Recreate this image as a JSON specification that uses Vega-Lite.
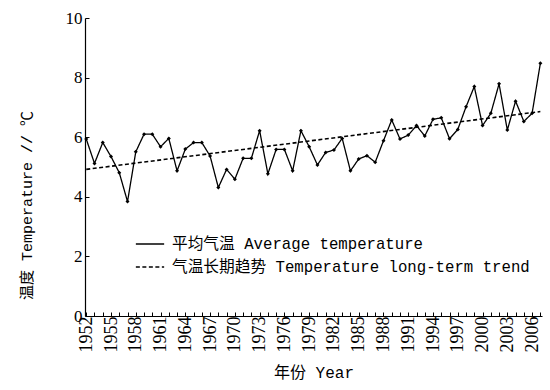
{
  "$schema": "https://vega.github.io/schema/vega-lite/v6.json",
  "width": 457,
  "height": 298,
  "autosize": {"type": "none"},
  "padding": {"left": 85, "top": 18, "right": 8, "bottom": 74},
  "background": "white",
  "config": {"view": {"stroke": null}, "font": "Liberation Serif"},
  "datasets": {
    "avg": [
      {"year": 1952, "temp": 5.94}, {"year": 1953, "temp": 5.12}, {"year": 1954, "temp": 5.82},
      {"year": 1955, "temp": 5.35}, {"year": 1956, "temp": 4.81}, {"year": 1957, "temp": 3.84},
      {"year": 1958, "temp": 5.51}, {"year": 1959, "temp": 6.10}, {"year": 1960, "temp": 6.10},
      {"year": 1961, "temp": 5.68}, {"year": 1962, "temp": 5.96}, {"year": 1963, "temp": 4.87},
      {"year": 1964, "temp": 5.60}, {"year": 1965, "temp": 5.82}, {"year": 1966, "temp": 5.82},
      {"year": 1967, "temp": 5.37}, {"year": 1968, "temp": 4.31}, {"year": 1969, "temp": 4.92},
      {"year": 1970, "temp": 4.59}, {"year": 1971, "temp": 5.29}, {"year": 1972, "temp": 5.29},
      {"year": 1973, "temp": 6.22}, {"year": 1974, "temp": 4.77}, {"year": 1975, "temp": 5.59},
      {"year": 1976, "temp": 5.59}, {"year": 1977, "temp": 4.87}, {"year": 1978, "temp": 6.22},
      {"year": 1979, "temp": 5.68}, {"year": 1980, "temp": 5.07}, {"year": 1981, "temp": 5.49},
      {"year": 1982, "temp": 5.57}, {"year": 1983, "temp": 5.96}, {"year": 1984, "temp": 4.87},
      {"year": 1985, "temp": 5.27}, {"year": 1986, "temp": 5.38}, {"year": 1987, "temp": 5.16},
      {"year": 1988, "temp": 5.88}, {"year": 1989, "temp": 6.58}, {"year": 1990, "temp": 5.94},
      {"year": 1991, "temp": 6.07}, {"year": 1992, "temp": 6.39}, {"year": 1993, "temp": 6.04},
      {"year": 1994, "temp": 6.60}, {"year": 1995, "temp": 6.65}, {"year": 1996, "temp": 5.95},
      {"year": 1997, "temp": 6.26}, {"year": 1998, "temp": 7.02}, {"year": 1999, "temp": 7.70},
      {"year": 2000, "temp": 6.39}, {"year": 2001, "temp": 6.80}, {"year": 2002, "temp": 7.79},
      {"year": 2003, "temp": 6.24}, {"year": 2004, "temp": 7.21}, {"year": 2005, "temp": 6.53},
      {"year": 2006, "temp": 6.80}, {"year": 2007, "temp": 8.48}
    ],
    "trend": [
      {"year": 1952, "temp": 4.92},
      {"year": 2007, "temp": 6.86}
    ]
  },
  "encoding": {
    "x": {
      "field": "year", "type": "quantitative",
      "scale": {"domain": [1951.85, 2007.2], "nice": false, "zero": false},
      "axis": {
        "title": "年份 Year",
        "titleFont": "Liberation Mono, Noto Sans CJK SC",
        "titleFontSize": 16, "titleFontWeight": "normal", "titleColor": "black",
        "titlePadding": 12,
        "values": [1952,1953,1954,1955,1956,1957,1958,1959,1960,1961,1962,1963,1964,1965,1966,1967,1968,1969,1970,1971,1972,1973,1974,1975,1976,1977,1978,1979,1980,1981,1982,1983,1984,1985,1986,1987,1988,1989,1990,1991,1992,1993,1994,1995,1996,1997,1998,1999,2000,2001,2002,2003,2004,2005,2006,2007],
        "labelExpr": "(datum.value - 1952) % 3 == 0 ? datum.value : ''",
        "labelAngle": -90, "labelAlign": "right", "labelBaseline": "middle",
        "labelFontSize": 18, "labelColor": "black", "labelPadding": 4,
        "labelOverlap": false, "labelFlush": false,
        "tickSize": -4, "tickColor": "black", "tickWidth": 1,
        "domainColor": "black", "domainWidth": 1.2,
        "grid": false, "format": "d"
      }
    },
    "y": {
      "field": "temp", "type": "quantitative",
      "scale": {"domain": [0, 10], "nice": false},
      "axis": {
        "title": "温度 Temperature // ℃",
        "titleFont": "Liberation Mono, Noto Sans CJK SC",
        "titleFontSize": 15, "titleFontWeight": "normal", "titleColor": "black",
        "titlePadding": 31,
        "titleY": 187, "titleAnchor": null,
        "values": [0, 2, 4, 6, 8, 10],
        "labelFontSize": 17, "labelColor": "black", "labelPadding": 7,
        "tickSize": -4, "tickColor": "black", "tickWidth": 1,
        "domainColor": "black", "domainWidth": 1.2,
        "grid": false
      }
    }
  },
  "layer": [
    {
      "data": {"name": "trend"},
      "transform": [{"calculate": "'气温长期趋势 Temperature long-term trend'", "as": "series"}],
      "mark": {"type": "line", "color": "black", "strokeWidth": 1.6},
      "encoding": {
        "strokeDash": {
          "field": "series", "type": "nominal",
          "scale": {
            "domain": ["平均气温 Average temperature", "气温长期趋势 Temperature long-term trend"],
            "range": [[1, 0], [4, 2.5]]
          },
          "legend": {
            "title": null, "orient": "none", "legendX": 50, "legendY": 211,
            "symbolType": "stroke", "symbolSize": 800, "symbolStrokeWidth": 1.4,
            "symbolStrokeColor": "black",
            "labelFont": "Liberation Mono, Noto Sans CJK SC", "labelFontSize": 15.7,
            "labelColor": "black", "rowPadding": -5, "labelOffset": 7, "labelLimit": 0
          }
        }
      }
    },
    {
      "data": {"name": "avg"},
      "transform": [{"calculate": "'平均气温 Average temperature'", "as": "series"}],
      "mark": {"type": "line", "color": "black", "strokeWidth": 1.3},
      "encoding": {"strokeDash": {"field": "series", "type": "nominal"}}
    },
    {
      "data": {"name": "avg"},
      "mark": {"type": "point", "shape": "diamond", "filled": true, "color": "black", "size": 16, "opacity": 1}
    }
  ]
}
